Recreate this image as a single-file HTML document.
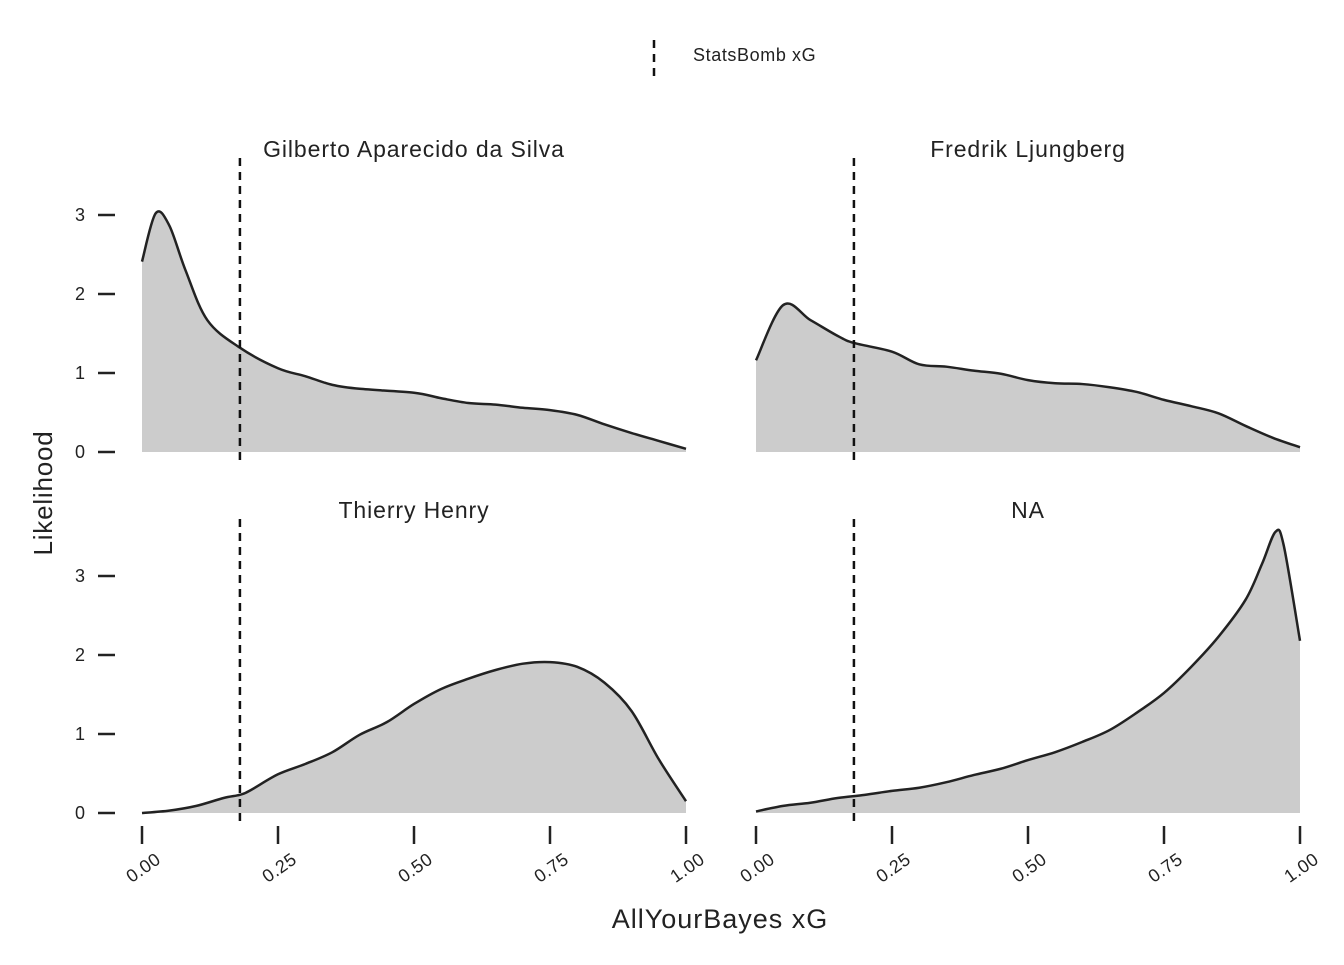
<!DOCTYPE html>
<html><head><meta charset="utf-8"><style>
body{margin:0;background:#fff;}
svg text{font-family:"Liberation Sans",sans-serif;fill:#222;}
</style></head><body>
<svg id="chart" width="1344" height="960" viewBox="0 0 1344 960" xmlns="http://www.w3.org/2000/svg">
<g>
<line x1="654" y1="40" x2="654" y2="76" stroke="#111" stroke-width="2.5" stroke-dasharray="8,6"/>
<text x="693" y="61" font-size="18" letter-spacing="0.6">StatsBomb xG</text>
</g>
<text transform="translate(52,493) rotate(-90)" text-anchor="middle" font-size="26" letter-spacing="0.8">Likelihood</text>
<text x="720" y="928" text-anchor="middle" font-size="27" letter-spacing="1">AllYourBayes xG</text>
<g id="panels"></g>
</svg>
<script>
const xs = [0,0.025,0.05,0.08,0.12,0.18,0.25,0.3,0.35,0.4,0.5,0.55,0.6,0.65,0.7,0.75,0.8,0.85,0.9,0.95,1.0];
const gilberto = [2.41,3.02,2.87,2.3,1.67,1.32,1.06,0.96,0.85,0.8,0.75,0.68,0.62,0.6,0.56,0.53,0.47,0.35,0.24,0.14,0.04];
const xs2 = [0,0.05,0.1,0.15,0.18,0.25,0.3,0.35,0.4,0.45,0.5,0.55,0.6,0.65,0.7,0.75,0.8,0.85,0.9,0.95,1.0];
const fredrik = [1.16,1.86,1.67,1.47,1.38,1.27,1.11,1.08,1.03,0.99,0.91,0.87,0.86,0.82,0.76,0.66,0.58,0.49,0.33,0.18,0.06];
const xs3 = [0,0.05,0.1,0.15,0.18,0.2,0.25,0.3,0.35,0.4,0.45,0.5,0.55,0.6,0.65,0.7,0.75,0.8,0.85,0.9,0.95,1.0];
const thierry = [0,0.03,0.09,0.19,0.23,0.29,0.49,0.62,0.77,0.99,1.15,1.38,1.57,1.7,1.81,1.89,1.91,1.85,1.65,1.29,0.68,0.15];
const xs4 = [0,0.05,0.1,0.15,0.2,0.25,0.3,0.35,0.4,0.45,0.5,0.55,0.6,0.65,0.7,0.75,0.8,0.85,0.9,0.93,0.955,0.97,1.0];
const naSeries = [0.02,0.09,0.13,0.19,0.23,0.28,0.32,0.39,0.48,0.56,0.67,0.77,0.9,1.05,1.27,1.52,1.85,2.23,2.7,3.15,3.56,3.39,2.18];
const statsbombXG = 0.18;
const yTicks = [0,1,2,3];
const xTicks = [0,0.25,0.5,0.75,1];
const xTickLabels = ["0.00","0.25","0.50","0.75","1.00"];
const titles = ["Gilberto Aparecido da Silva","Fredrik Ljungberg","Thierry Henry","NA"];

const NS="http://www.w3.org/2000/svg";
const root=document.getElementById('panels');
function mk(t,a,p){const e=document.createElementNS(NS,t);for(const k in a)e.setAttribute(k,a[k]);(p||root).appendChild(e);return e;}
const panels=[
 {x0:142,x1:686,y0:452,top:158,xs:xs,ys:gilberto,left:true,bottom:false},
 {x0:756,x1:1300,y0:452,top:158,xs:xs2,ys:fredrik,left:false,bottom:false},
 {x0:142,x1:686,y0:813,top:519,xs:xs3,ys:thierry,left:true,bottom:true},
 {x0:756,x1:1300,y0:813,top:519,xs:xs4,ys:naSeries,left:false,bottom:true}
];
const unit=79;
function smooth(pts){
 let d=`M${pts[0][0]},${pts[0][1]}`;
 for(let i=0;i<pts.length-1;i++){
  const p0=pts[i-1]||pts[i],p1=pts[i],p2=pts[i+1],p3=pts[i+2]||p2;
  const c1=[p1[0]+(p2[0]-p0[0])/6,p1[1]+(p2[1]-p0[1])/6];
  const c2=[p2[0]-(p3[0]-p1[0])/6,p2[1]-(p3[1]-p1[1])/6];
  d+=`C${c1[0]},${c1[1]} ${c2[0]},${c2[1]} ${p2[0]},${p2[1]}`;
 }
 return d;
}
panels.forEach((p,i)=>{
 const g=mk('g',{});
 
 
 const X=v=>p.x0+v*(p.x1-p.x0), Y=v=>p.y0-v*unit;
 const pts=p.xs.map((x,j)=>[X(x),Y(p.ys[j])]);
 const line=smooth(pts);
 const area=mk('path',{d:line+`L${X(1)},${p.y0}L${X(0)},${p.y0}Z`,fill:'#cccccc',stroke:'none'},g);
 
 
 const ln=mk('path',{d:line,fill:'none',stroke:'#222',"stroke-width":2.5},g);
 
 
 const dl=mk('line',{x1:X(statsbombXG),x2:X(statsbombXG),y1:p.top,y2:p.y0+13,stroke:'#111',"stroke-width":2.5,"stroke-dasharray":"8,6"},g);
 
 
 const t=mk('text',{x:(p.x0+p.x1)/2,y:p.top-1,"text-anchor":"middle","font-size":23,"letter-spacing":0.9},g);
 t.textContent=titles[i];
 
 
 if(p.left){yTicks.forEach(v=>{
  const tk=mk('line',{x1:98,x2:115,y1:Y(v),y2:Y(v),stroke:'#222',"stroke-width":2.5},g);
  
  
  const tl=mk('text',{x:80,y:Y(v)+6,"text-anchor":"middle","font-size":18},g);
  tl.textContent=String(v);
  
  
 });}
 if(p.bottom){xTicks.forEach((v,j)=>{
  const tk=mk('line',{x1:X(v),x2:X(v),y1:826,y2:844,stroke:'#222',"stroke-width":2.5},g);
  
  
  const tl=mk('text',{transform:`translate(${X(v)+20},${862}) rotate(-35)`,"text-anchor":"end","font-size":18,"letter-spacing":0.5},g);
  tl.textContent=xTickLabels[j];
  
  
 });}
});
</script>
</body></html>
